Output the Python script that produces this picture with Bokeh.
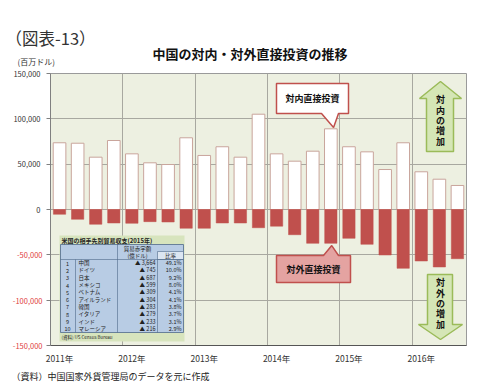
from bokeh.plotting import figure
from bokeh.models import Range1d, FixedTicker, ColumnDataSource, LinearAxis, Title
from bokeh.core.properties import value
from bokeh.embed import file_html
from bokeh.resources import INLINE

# ---------------- data ----------------
quarters = ["2011Q1", "2011Q2", "2011Q3", "2011Q4",
            "2012Q1", "2012Q2", "2012Q3", "2012Q4",
            "2013Q1", "2013Q2", "2013Q3", "2013Q4",
            "2014Q1", "2014Q2", "2014Q3", "2014Q4",
            "2015Q1", "2015Q2", "2015Q3", "2015Q4",
            "2016Q1", "2016Q2", "2016Q3"]
inward = [73600, 73100, 57700, 76100,
          61400, 51500, 49600, 79100,
          59600, 69200, 57700, 105100,
          61400, 53300, 64300, 89000,
          69200, 63600, 44100, 73600,
          41600, 33400, 26500]
outward = [-5300, -10800, -16300, -14900,
           -15200, -13400, -13800, -20700,
           -20700, -14900, -14900, -20100,
           -18400, -27800, -37300, -37300,
           -31800, -38400, -50200, -64900,
           -56800, -63400, -54300]
year_labels = ["2011年", "2012年", "2013年", "2014年", "2015年", "2016年"]
y_ticks = [-150000, -100000, -50000, 0, 50000, 100000, 150000]

table_rank = ["1", "2", "3", "4", "5", "6", "7", "8", "9", "10"]
table_country = ["中国", "ドイツ", "日本", "メキシコ", "ベトナム", "アイルランド",
                 "韓国", "イタリア", "インド", "マレーシア"]
table_deficit = ["▲ 3,664", "▲ 745", "▲ 687", "▲ 599", "▲ 309", "▲ 304",
                 "▲ 283", "▲ 279", "▲ 233", "▲ 216"]
table_share = ["49.1%", "10.0%", "9.2%", "8.0%", "4.1%", "4.1%",
               "3.8%", "3.7%", "3.1%", "2.9%"]

FONT = "Noto Sans CJK JP"
RED = "#C0504D"

n = len(quarters)
xs = list(range(n))
X0, X1 = -0.5, n - 0.5
Y0, Y1 = y_ticks[0], y_ticks[-1]

# frame geometry in page pixels (used only for decorations)
FL, FT, FW, FH = 50, 73, 416, 272


def px_x(px):
    return X0 + (px - FL) / FW * (X1 - X0)


def px_y(py):
    return Y1 - (py - FT) / FH * (Y1 - Y0)


p = figure(frame_width=FW, frame_height=FH,
           min_border_left=50, min_border_right=15,
           min_border_top=73, min_border_bottom=46,
           x_range=Range1d(X0, X1), y_range=Range1d(Y0, Y1),
           output_backend="svg", toolbar_location=None,
           background_fill_color="#EDF0E1", border_fill_color="white",
           outline_line_color="#9A9A9A")

# grids
p.ygrid.ticker = FixedTicker(ticks=y_ticks)
p.ygrid.grid_line_color = "#A8A8A0"
p.xgrid.ticker = FixedTicker(ticks=[i - 0.5 for i in range(4, n, 4)])
p.xgrid.grid_line_color = "#A8A8A0"

# y axes: inner axis carries tick marks and red negative labels,
# outer axis (pulled in by a negative standoff) carries black positive labels
pos_ticks = [t for t in y_ticks if t >= 0]
neg_ticks = [t for t in y_ticks if t < 0]
ya = p.yaxis[0]
ya.ticker = FixedTicker(ticks=y_ticks)
ya.major_label_overrides = {t: (f"{t:,}" if t < 0 else " ") for t in y_ticks}
ya.major_label_text_font = FONT
ya.major_label_text_font_size = "7.5px"
ya.major_label_text_color = "#E0403C"
ya.major_tick_out = 4
ya.major_tick_in = 0
ya.minor_tick_line_color = None
ya.major_label_standoff = 4
ya.axis_line_color = "#808080"
ya.major_tick_line_color = "#808080"

pos_axis = LinearAxis(ticker=FixedTicker(ticks=pos_ticks),
                      major_label_overrides={t: f"{t:,}" for t in pos_ticks})
pos_axis.major_label_text_font = FONT
pos_axis.major_label_text_font_size = "7.5px"
pos_axis.major_label_text_color = "#333333"
pos_axis.major_tick_out = 0
pos_axis.major_tick_in = 0
pos_axis.major_tick_line_color = None
pos_axis.minor_tick_line_color = None
pos_axis.axis_line_color = None
pos_axis.major_label_standoff = -31
p.add_layout(pos_axis, "left")

p.xaxis.ticker = FixedTicker(ticks=list(range(0, n, 4)))
p.xaxis.major_label_overrides = {i: lab for i, lab in zip(range(0, n, 4), year_labels)}
p.xaxis.major_label_text_font = FONT
p.xaxis.major_label_text_font_size = "8.5px"
p.xaxis.major_label_text_color = "#333333"
p.xaxis.major_tick_line_color = None
p.xaxis.minor_tick_line_color = None
p.xaxis.major_label_standoff = 0
p.xaxis.axis_line_color = "#555555"

# bars
src = ColumnDataSource(dict(x=xs, inward=inward, outward=outward, q=quarters))
p.vbar(x="x", top="inward", bottom=0, width=0.7, source=src,
       fill_color="white", line_color="#C9A59C", line_width=1)
p.vbar(x="x", top=0, bottom="outward", width=0.68, source=src,
       fill_color=RED, line_color=RED, line_width=0.5)

# ---- inset table (US trade deficit) ----
p.quad(left=[px_x(59)], right=[px_x(184)], top=[px_y(235)], bottom=[px_y(341)],
       fill_color="#D7E4BD", line_color=None)
p.quad(left=[px_x(60)], right=[px_x(183)], top=[px_y(244)], bottom=[px_y(332)],
       fill_color="#B8CCE4", line_color="#4F6A8A", line_width=0.8)
p.quad(left=[px_x(157)], right=[px_x(183)], top=[px_y(251)], bottom=[px_y(259)],
       fill_color="#DCE6F2", line_color="#4F6A8A", line_width=0.6)
p.segment(x0=[px_x(60), px_x(117), px_x(157), px_x(75)],
          y0=[px_y(259), px_y(244), px_y(259), px_y(259)],
          x1=[px_x(183), px_x(117), px_x(157), px_x(75)],
          y1=[px_y(259), px_y(332), px_y(332), px_y(332)],
          line_color="#4F6A8A", line_width=0.6)
p.text(x=[px_x(61)], y=[px_y(239.5)], text=["米国の相手先別貿易収支(2015年)"],
       text_font=value(FONT), text_font_size="6px", text_font_style="bold",
       text_align="left", text_baseline="middle", text_color="#222222")
p.text(x=[px_x(137), px_x(137), px_x(170)], y=[px_y(248), px_y(255), px_y(255)],
       text=["貿易赤字額", "(億ドル)", "比率"],
       text_font=value(FONT), text_font_size="5.5px",
       text_align="center", text_baseline="middle", text_color="#222222")
row_h = (332 - 259) / len(table_rank)
row_y = [px_y(259 + row_h * (i + 0.5)) for i in range(len(table_rank))]
tsrc = ColumnDataSource(dict(y=row_y, rank=table_rank, country=table_country,
                             deficit=table_deficit, share=table_share))
common = dict(source=tsrc, text_font=value(FONT), text_font_size="5.5px",
              text_baseline="middle", text_color="#222222")
p.text(x=px_x(67), y="y", text="rank", text_align="center", **common)
p.text(x=px_x(78), y="y", text="country", text_align="left", **common)
p.text(x=px_x(155), y="y", text="deficit", text_align="right", **common)
p.text(x=px_x(181), y="y", text="share", text_align="right", **common)
p.text(x=[px_x(61)], y=[px_y(336.5)], text=["(資料) US Census Bureau"],
       text_font=value(FONT), text_font_size="4.5px",
       text_align="left", text_baseline="middle", text_color="#222222")

# ---- callouts ----
tip_in_x, tip_in_y = xs[15] + 0.15, inward[15] + 1500
p.patch(x=[px_x(276), px_x(348), px_x(348), px_x(338), tip_in_x, px_x(321), px_x(276)],
        y=[px_y(83), px_y(83), px_y(113), px_y(113), tip_in_y, px_y(113), px_y(113)],
        fill_color="white", line_color=RED, line_width=1.5)
p.text(x=[px_x(312)], y=[px_y(98)], text=["対内直接投資"],
       text_font=value(FONT), text_font_size="9px", text_font_style="bold",
       text_align="center", text_baseline="middle", text_color="#111111")

tip_out_x, tip_out_y = xs[15] + 0.05, outward[15] - 2500
p.patch(x=[px_x(276), px_x(323), tip_out_x, px_x(338), px_x(350), px_x(350), px_x(276)],
        y=[px_y(255), px_y(255), tip_out_y, px_y(255), px_y(255), px_y(282), px_y(282)],
        fill_color="#E4A3A1", line_color=RED, line_width=1.5)
p.text(x=[px_x(313)], y=[px_y(269)], text=["対外直接投資"],
       text_font=value(FONT), text_font_size="9px", text_font_style="bold",
       text_align="center", text_baseline="middle", text_color="#111111")

# ---- arrows ----
p.patch(x=[px_x(440), px_x(461), px_x(453), px_x(453), px_x(426), px_x(426), px_x(419)],
        y=[px_y(81), px_y(98), px_y(98), px_y(151), px_y(151), px_y(98), px_y(98)],
        fill_color="#D5E6B6", line_color="#9BBB59", line_width=1.5)
p.text(x=[px_x(440)], y=[px_y(120)], text=["対\n内\nの\n増\n加"],
       text_font=value(FONT), text_font_size="9px", text_font_style="bold",
       text_align="center", text_baseline="middle", text_color="#111111",
       text_line_height=0.8)
p.patch(x=[px_x(427), px_x(452), px_x(452), px_x(462), px_x(440), px_x(418), px_x(427)],
        y=[px_y(274), px_y(274), px_y(324), px_y(324), px_y(339), px_y(324), px_y(324)],
        fill_color="#D5E6B6", line_color="#9BBB59", line_width=1.5)
p.text(x=[px_x(440)], y=[px_y(303)], text=["対\n外\nの\n増\n加"],
       text_font=value(FONT), text_font_size="9px", text_font_style="bold",
       text_align="center", text_baseline="middle", text_color="#111111",
       text_line_height=0.8)

# ---- outer texts (titles, stacked from the frame outward) ----
p.add_layout(Title(text="(百万ドル)", align="left", offset=-33, standoff=9,
                   vertical_align="top",
                   text_font=FONT, text_font_size="8px", text_font_style="normal",
                   text_color="#333333"), "above")
p.add_layout(Title(text="中国の対内・対外直接投資の推移", align="left", offset=102,
                   standoff=-23, vertical_align="bottom",
                   text_font=FONT, text_font_size="13px",
                   text_font_style="bold", text_color="#111111"), "above")
p.add_layout(Title(text=".", align="left", standoff=19, text_font=FONT,
                   text_font_size="1px", text_alpha=0), "above")
p.add_layout(Title(text="（図表-13）", align="left", offset=-45, standoff=0,
                   vertical_align="top",
                   text_font=FONT, text_font_size="16.5px", text_font_style="normal",
                   text_color="#333333"), "above")
p.add_layout(Title(text="（資料）中国国家外貨管理局のデータを元に作成", align="left",
                   offset=-39, standoff=2, text_font=FONT, text_font_size="9px",
                   text_font_style="normal", text_color="#222222"), "below")

open("out.html", "w").write(file_html(p, INLINE))
